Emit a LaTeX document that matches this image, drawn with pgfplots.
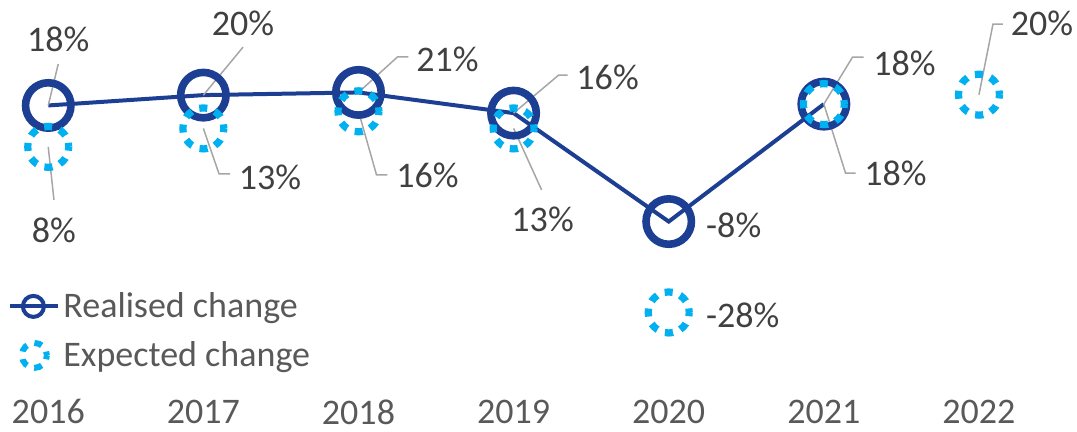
\documentclass[border=0pt]{standalone}
\usepackage{pgfplots}
\pgfplotsset{compat=1.18}
\usepackage{fontspec}
\setmainfont{Carlito}
\definecolor{dblue}{HTML}{1C3F94}
\definecolor{lblue}{HTML}{00B0F0}
\definecolor{lbltxt}{HTML}{404040}
\definecolor{axtxt}{HTML}{595959}
\definecolor{leadc}{HTML}{A6A6A6}
\pgfplotstableread{
x y
0 18.0
1 20.3
2 20.9
3 16.3
4 -7.8
5 18.3
}\realised
\pgfplotstableread{
x y
0 8.8
1 12.9
2 16.7
3 12.9
4 -28.0
5 18.3
6 20.4
}\expected
\begin{document}
\begin{tikzpicture}[
  leader/.style={draw=leadc, line width=0.75pt},
  dlabel/.style={inner sep=0pt, text=lbltxt, font=\fontsize{18}{21.6}\selectfont, anchor=center}
]
\begin{axis}[
  name=ax,
  scale only axis,
  width=538.5pt, height=216pt,
  xmin=-0.311, xmax=6.632,
  ymin=-54.56, ymax=41.44,
  axis line style={draw=none},
  major tick style={draw=none},
  ytick=\empty,
  xtick={0,1,2,3,4,5,6},
  xticklabels={2016,2017,2018,2019,2020,2021,2022},
  xticklabel style={anchor=center, inner sep=0pt, yshift=10pt, text=axtxt, font=\fontsize{18}{21.6}\selectfont},
  clip=false,
  legend cell align=left,
  legend style={at={(axis description cs:0,0.3194)}, anchor=north west, draw=none, fill=none,
    inner sep=0pt, column sep=2.5pt, row sep=12.5pt,
    nodes={inner sep=0pt, text height=11.6pt, text depth=0pt, text=axtxt},
    font=\fontsize{18}{21.6}\selectfont},
]
\addlegendimage{legend image code/.code={
  \draw[overlay, dblue, line width=2pt] (5pt,0pt) -- (29pt,0pt);
  \draw[overlay, dblue, line width=2pt, fill=none] (16.5pt,0pt) circle[radius=5.25pt];
  \path[draw=none, fill=none] (0pt,-6pt) rectangle (29pt,6pt);
}}
\addlegendentry{Realised change}
\addlegendimage{legend image code/.code={
  \draw[overlay, lblue, fill=none, line width=3pt, dash pattern=on 3.9pt off 3.9pt, dash phase=1.95pt] (17pt,0pt) circle[radius=6.25pt];
  \path[draw=none, fill=none] (0pt,-6pt) rectangle (29pt,6pt);
}}
\addlegendentry{Expected change}

\addplot[forget plot, dblue, line width=2pt, mark=o, mark size=11.35pt,
  mark options={line width=3.8pt, solid}] table[x=x,y=y] {\realised};
\addplot[forget plot, only marks, lblue, mark=o, mark size=10.25pt,
  mark options={line width=3.6pt, dash pattern=on 4.025pt off 4.025pt, dash phase=2pt}] table[x=x,y=y] {\expected};

% leader lines and data labels
\draw[leader] (axis cs:0,18.0) -- ++(5pt,20.75pt);
\path (axis cs:0,18.0) ++(5pt,33.25pt) node[dlabel]{18\%};
\draw[leader] (axis cs:0,8.8) -- ++(2.85pt,-26.5pt);
\path (axis cs:0,8.8) ++(2.85pt,-41.5pt) node[dlabel]{8\%};

\draw[leader] (axis cs:1,20.3) -- ++(19.85pt,24pt);
\path (axis cs:1,20.3) ++(19.85pt,36pt) node[dlabel]{20\%};
\draw[leader] (axis cs:1,12.9) -- ++(7.85pt,-22.75pt) -- ++(5.5pt,0pt);
\path (axis cs:1,12.9) ++(33.35pt,-24.25pt) node[dlabel]{13\%};

\draw[leader] (axis cs:2,20.9) -- ++(19.5pt,17.75pt) -- ++(5.5pt,0pt);
\path (axis cs:2,20.9) ++(44.5pt,16.75pt) node[dlabel]{21\%};
\draw[leader] (axis cs:2,16.7) -- ++(9pt,-31.75pt) -- ++(5.5pt,0pt);
\path (axis cs:2,16.7) ++(34.5pt,-32.25pt) node[dlabel]{16\%};

\draw[leader] (axis cs:3,16.3) -- ++(22.5pt,19pt) -- ++(4.5pt,0pt);
\path (axis cs:3,16.3) ++(47pt,18pt) node[dlabel]{16\%};
\draw[leader] (axis cs:3,12.9) -- ++(14pt,-30.75pt);
\path (axis cs:3,12.9) ++(14.5pt,-45.25pt) node[dlabel]{13\%};

\path (axis cs:4,-7.8) ++(32.5pt,-1.75pt) node[dlabel]{-8\%};
\path (axis cs:4,-28) ++(37pt,-1.25pt) node[dlabel]{-28\%};

\draw[leader] (axis cs:5,18.3) -- ++(14.35pt,23.5pt) -- ++(5.5pt,0pt);
\path (axis cs:5,18.3) ++(40.35pt,20.5pt) node[dlabel]{18\%};
\draw[leader] (axis cs:5,18.3) -- ++(10.85pt,-34.5pt) -- ++(5pt,0pt);
\path (axis cs:5,18.3) ++(35.85pt,-34.5pt) node[dlabel]{18\%};

\draw[leader] (axis cs:6,20.4) -- ++(7pt,35.25pt) -- ++(5pt,0pt);
\path (axis cs:6,20.4) ++(31.5pt,35.75pt) node[dlabel]{20\%};
\end{axis}
\pgfresetboundingbox
\path (ax.south west) rectangle (ax.north east);
\end{tikzpicture}
\end{document}
